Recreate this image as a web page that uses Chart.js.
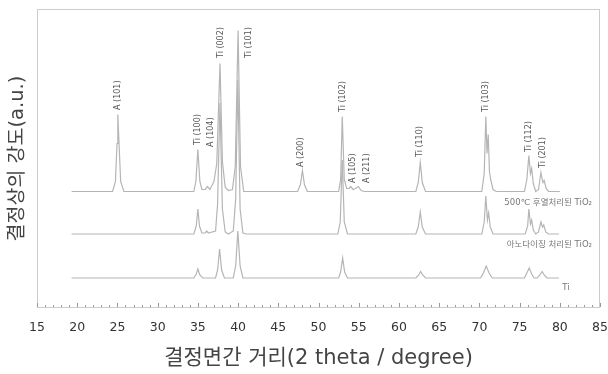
<!DOCTYPE html>
<html>
<head>
    <title>XRD patterns</title>
    <script src="https://cdn.jsdelivr.net/npm/chart.js"></script>
    <style>
        body {
            margin: 0;
            background-color: #ffffff;
        }

        #wrap {
            width: 608px;
            height: 374px;
        }
    </style>
</head>
<body>
    <div id="wrap"><canvas id="xrd"></canvas></div>

    <script>
        // 2 theta ticks
        const xMin = 15;
        const xMax = 85;
        const xStep = 5;

        // series names, top to bottom
        const seriesNames = ['500℃ 후열처리된 TiO₂', '아노다이징 처리된 TiO₂', 'Ti'];
        // vertical offset of each pattern (a.u.)
        const offsets = [116.5, 74, 30];

        // [2 theta, intensity above baseline]
        const annealed = [
            [19.3, 0], [24.4, 0], [24.75, 10], [24.95, 48], [25.05, 77], [25.2, 48], [25.4, 10], [25.8, 0],
            [34.5, 0], [34.75, 10], [35.0, 42], [35.25, 10], [35.5, 2], [35.9, 2], [36.2, 5], [36.5, 2],
            [36.75, 6], [37.0, 10], [37.35, 28], [37.75, 128], [38.05, 30], [38.4, 4], [38.8, 1],
            [39.3, 2], [39.65, 25], [40.0, 161], [40.3, 25], [40.7, 0],
            [47.4, 0], [47.75, 7], [48.0, 21], [48.25, 7], [48.6, 0],
            [52.5, 0], [52.75, 12], [52.95, 75], [53.2, 12], [53.5, 3], [53.8, 3], [54.0, 5], [54.3, 2],
            [54.6, 3], [54.95, 5], [55.3, 1], [55.7, 0],
            [62.1, 0], [62.4, 9], [62.65, 29], [62.9, 9], [63.3, 0],
            [70.3, 0], [70.6, 18], [70.8, 75], [70.95, 38], [71.1, 57], [71.25, 20], [71.4, 12], [71.7, 2], [72.1, 0],
            [75.6, 0], [75.9, 12], [76.15, 36], [76.35, 18], [76.5, 23], [76.7, 8], [77.0, 0],
            [77.35, 2], [77.65, 19], [77.9, 9], [78.05, 11], [78.3, 3], [78.6, 0], [80.0, 0]
        ];
        const anodized = [
            [19.3, 0], [34.5, 0], [34.8, 8], [35.0, 25], [35.2, 8], [35.5, 1], [35.9, 1], [36.1, 3], [36.3, 1],
            [37.2, 3], [37.45, 30], [37.75, 131], [38.05, 25], [38.4, 2], [38.8, 0],
            [39.4, 3], [39.7, 35], [39.97, 154], [40.25, 25], [40.6, 1], [41.0, 0],
            [52.4, 0], [52.7, 12], [52.95, 74], [53.2, 12], [53.6, 0],
            [62.1, 0], [62.4, 7], [62.65, 22], [62.9, 7], [63.3, 0],
            [70.3, 0], [70.6, 12], [70.8, 38], [71.0, 14], [71.15, 21], [71.35, 7], [71.7, 0],
            [75.7, 0], [76.0, 8], [76.15, 25], [76.35, 10], [76.5, 14], [76.7, 4], [77.0, 0],
            [77.35, 2], [77.65, 12], [77.85, 7], [78.0, 9], [78.25, 2], [78.6, 0], [79.9, 0]
        ];
        const titanium = [
            [19.3, 0], [34.5, 0], [34.8, 4], [35.0, 9], [35.25, 3], [35.6, 0],
            [37.2, 0], [37.45, 8], [37.7, 29], [37.95, 8], [38.3, 0],
            [39.4, 0], [39.7, 12], [39.97, 47], [40.25, 12], [40.6, 0],
            [52.5, 0], [52.75, 6], [53.0, 20], [53.25, 6], [53.6, 0],
            [62.1, 0], [62.45, 3], [62.7, 6.5], [62.95, 3], [63.3, 0],
            [70.15, 0], [70.5, 5], [70.85, 12], [71.2, 5], [71.6, 0],
            [75.6, 0], [75.9, 5], [76.2, 10], [76.5, 4], [76.8, 0],
            [77.2, 0], [77.5, 3], [77.8, 6.5], [78.05, 3], [78.4, 0], [79.9, 0]
        ];

        // reflection labels
        const peakNames = ['A (101)', 'Ti (100)', 'A (104)', 'Ti (002)', 'Ti (101)', 'A (200)', 'Ti (102)',
            'A (105)', 'A (211)', 'Ti (110)', 'Ti (103)', 'Ti (112)', 'Ti (201)'];
        const peakTheta = [25.05, 34.98, 36.68, 37.92, 41.35, 47.85, 53.02, 54.26, 56.0, 62.62, 70.81, 76.19, 77.84];
        const peakLabelAt = [198, 163, 161, 250, 250, 141, 196, 125, 125, 151, 196, 156, 140];

        const patterns = [annealed, anodized, titanium];

        const overlay = {
            id: 'overlay',
            afterDatasetsDraw(chart) {
                const { ctx, chartArea: a, scales: { x, y } } = chart;
                ctx.save();

                // frame
                ctx.strokeStyle = '#cccccc';
                ctx.lineWidth = 1;
                ctx.strokeRect(Math.round(a.left) + 0.5, Math.round(a.top) + 0.5,
                    Math.round(a.right - a.left) - 1, Math.round(a.bottom - a.top) - 1);

                // inside ticks
                ctx.strokeStyle = '#999999';
                for (let v = xMin; v <= xMax; v++) {
                    const px = Math.round(x.getPixelForValue(v)) + 0.5;
                    const len = v % xStep === 0 ? 4 : 2;
                    ctx.beginPath();
                    ctx.moveTo(px, a.bottom - 1);
                    ctx.lineTo(px, a.bottom - 1 - len);
                    ctx.stroke();
                }

                // peak labels
                ctx.fillStyle = '#555555';
                ctx.font = '8px "DejaVu Sans"';
                ctx.textAlign = 'left';
                ctx.textBaseline = 'middle';
                peakNames.forEach((name, i) => {
                    ctx.save();
                    ctx.translate(x.getPixelForValue(peakTheta[i]), y.getPixelForValue(peakLabelAt[i]));
                    ctx.rotate(-Math.PI / 2);
                    ctx.fillText(name, 0, 0);
                    ctx.restore();
                });

                // series names
                ctx.fillStyle = '#777777';
                ctx.font = '8.5px "DejaVu Sans", "Noto Sans CJK KR"';
                ctx.textAlign = 'right';
                ctx.fillText(seriesNames[0], x.getPixelForValue(84.0), y.getPixelForValue(105));
                ctx.fillText(seriesNames[1], x.getPixelForValue(84.0), y.getPixelForValue(63));
                ctx.textAlign = 'left';
                ctx.fillText(seriesNames[2], x.getPixelForValue(80.3), y.getPixelForValue(20));

                ctx.restore();
            }
        };

        const ctx = document.getElementById('xrd').getContext('2d');
        new Chart(ctx, {
            type: 'line',
            data: {
                datasets: patterns.map((p, i) => ({
                    label: seriesNames[i],
                    data: p.map(pt => ({ x: pt[0], y: pt[1] + offsets[i] })),
                    borderColor: '#b5b5b5',
                    borderWidth: 1.2,
                    pointRadius: 0,
                    tension: 0,
                    fill: false
                }))
            },
            options: {
                responsive: true,
                maintainAspectRatio: false,
                animation: false,
                layout: {
                    padding: { top: 9, right: 0, bottom: 0, left: 0 }
                },
                plugins: {
                    legend: { display: false },
                    tooltip: { enabled: false }
                },
                scales: {
                    x: {
                        type: 'linear',
                        min: xMin,
                        max: xMax,
                        grid: { display: false, drawTicks: true, tickLength: 12 },
                        border: { display: false },
                        ticks: {
                            stepSize: xStep,
                            padding: 0,
                            color: '#333333',
                            font: { family: 'DejaVu Sans', size: 12.5 }
                        },
                        title: {
                            display: true,
                            text: '결정면간 거리(2 theta / degree)',
                            color: '#444444',
                            font: { family: '"DejaVu Sans", "Noto Sans CJK KR"', size: 21 },
                            padding: { top: 0, bottom: 3 }
                        },
                        afterFit(scale) { scale.height = 66; }
                    },
                    y: {
                        min: 0,
                        max: 299,
                        grid: { display: false, drawTicks: false },
                        border: { display: false },
                        ticks: { display: false },
                        title: {
                            display: true,
                            text: '결정상의 강도(a.u.)',
                            color: '#444444',
                            font: { family: '"DejaVu Sans", "Noto Sans CJK KR"', size: 19.5 },
                            padding: { top: 6, bottom: 0 }
                        },
                        afterFit(scale) { scale.width = 37; }
                    }
                }
            },
            plugins: [overlay]
        });
    </script>
</body>
</html>
